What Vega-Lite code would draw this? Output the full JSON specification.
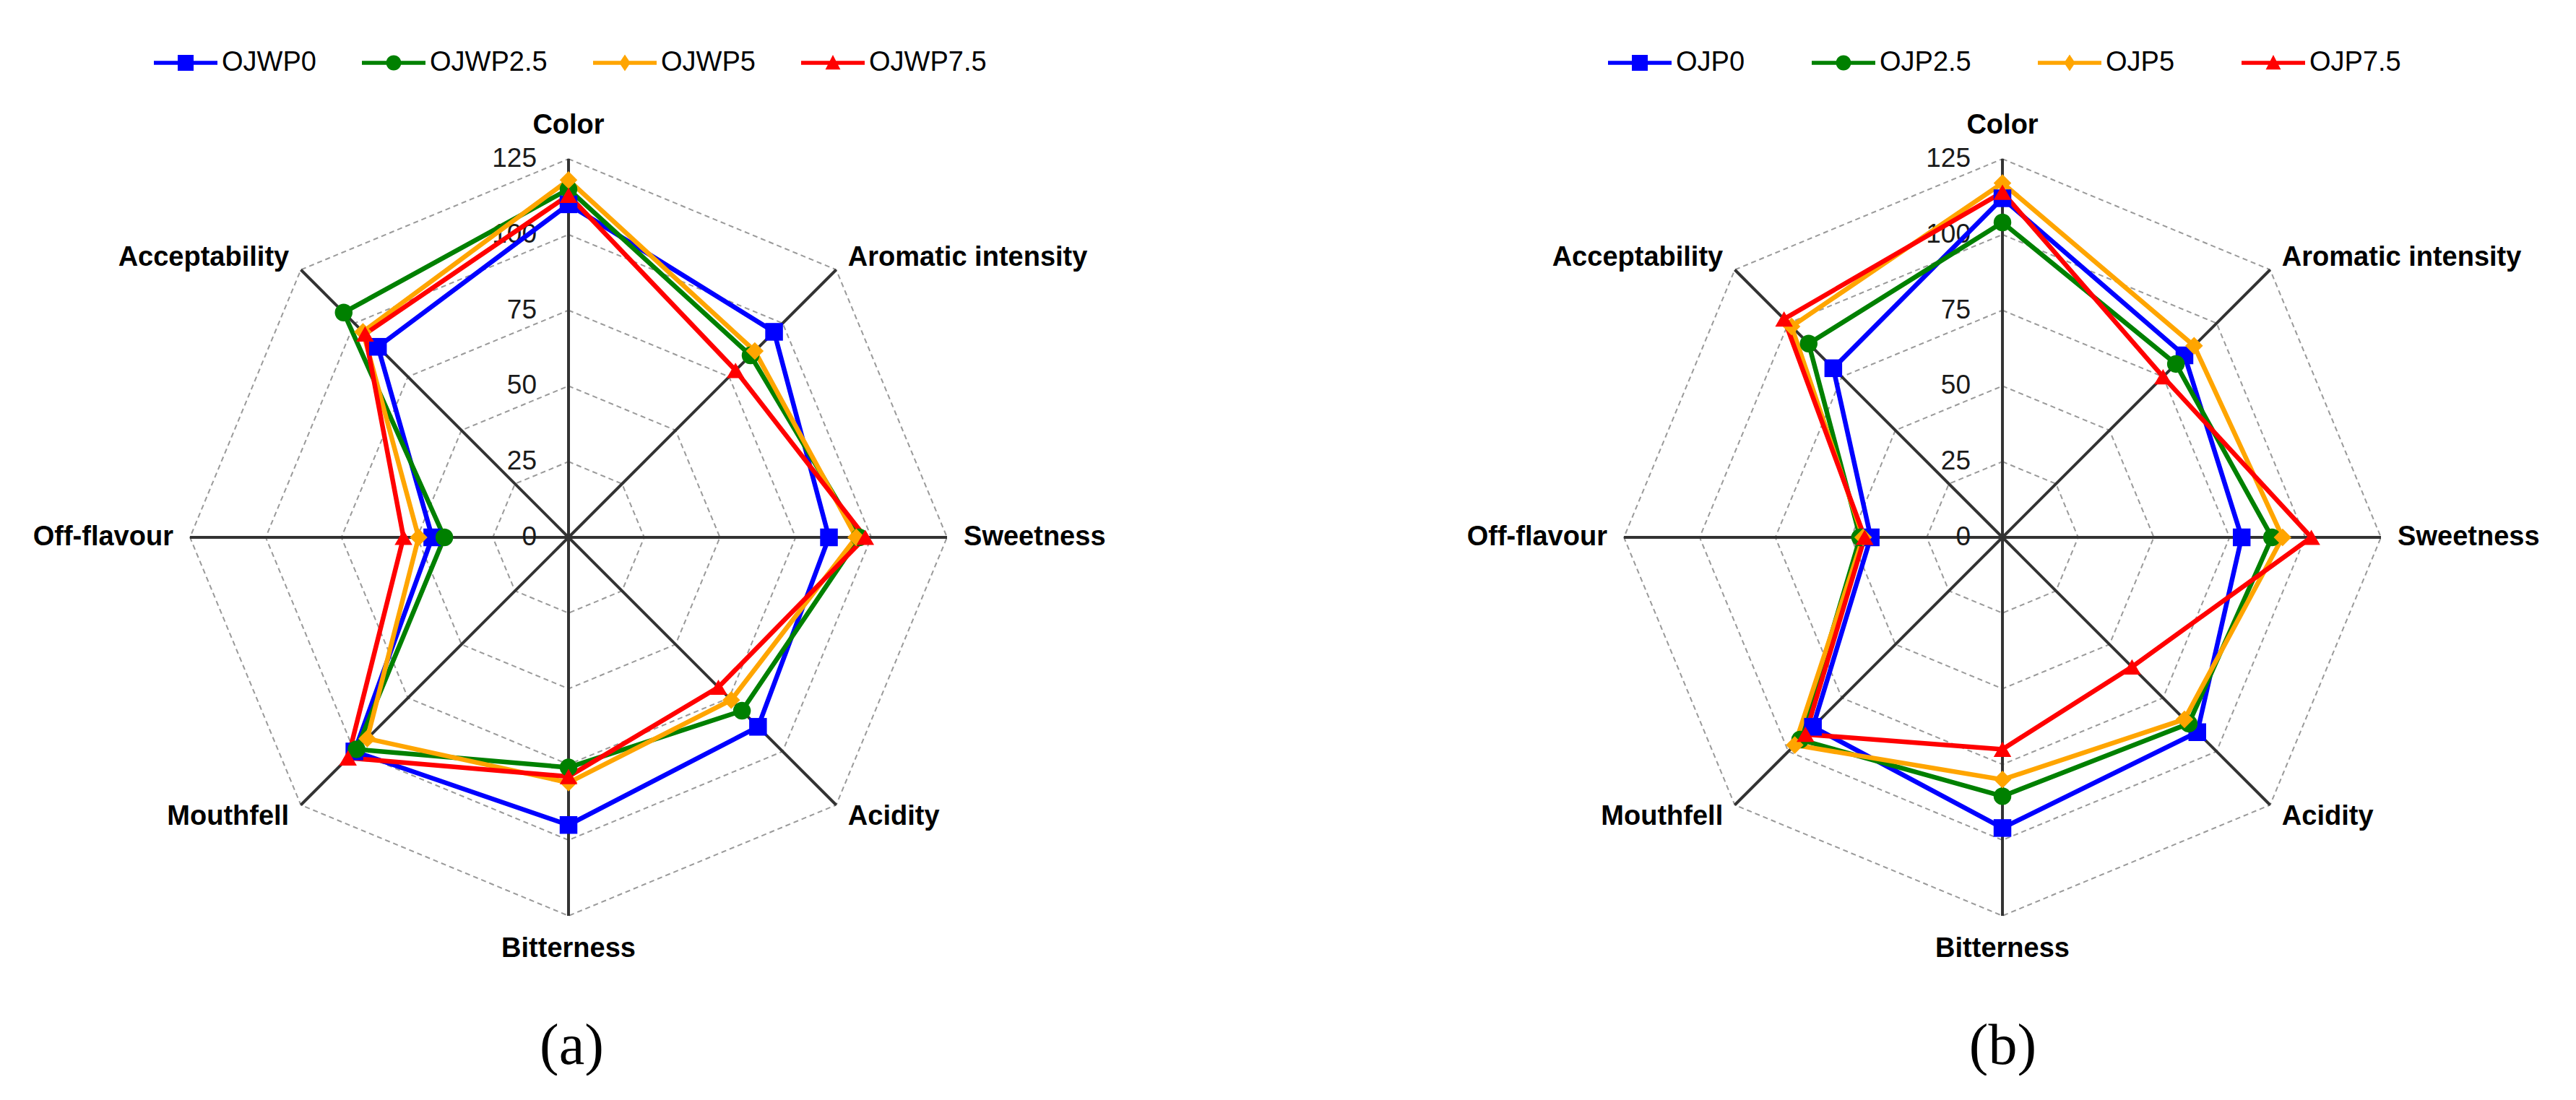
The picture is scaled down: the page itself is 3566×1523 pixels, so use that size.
{
  "$schema": "https://vega.github.io/schema/vega-lite/v6.json",
  "padding": 0,
  "spacing": 0,
  "background": "white",
  "config": {"view": {"stroke": null}, "font": "Liberation Sans"},
  "datasets": {
    "spokes": [
      {"attr": "Color", "idx": 0},
      {"attr": "Aromatic intensity", "idx": 1},
      {"attr": "Sweetness", "idx": 2},
      {"attr": "Acidity", "idx": 3},
      {"attr": "Bitterness", "idx": 4},
      {"attr": "Mouthfell", "idx": 5},
      {"attr": "Off-flavour", "idx": 6},
      {"attr": "Acceptability", "idx": 7}
    ],
    "rings": [
      {"idx": 0, "levels": [25, 50, 75, 100, 125]},
      {"idx": 1, "levels": [25, 50, 75, 100, 125]},
      {"idx": 2, "levels": [25, 50, 75, 100, 125]},
      {"idx": 3, "levels": [25, 50, 75, 100, 125]},
      {"idx": 4, "levels": [25, 50, 75, 100, 125]},
      {"idx": 5, "levels": [25, 50, 75, 100, 125]},
      {"idx": 6, "levels": [25, 50, 75, 100, 125]},
      {"idx": 7, "levels": [25, 50, 75, 100, 125]}
    ],
    "ticks": [{"tick": 0}, {"tick": 25}, {"tick": 50}, {"tick": 75}, {"tick": 100}, {"tick": 125}],
    "scores": [
      {"panel": "a", "series": "OJWP0", "idx": 0, "value": 110},
      {"panel": "a", "series": "OJWP0", "idx": 1, "value": 96},
      {"panel": "a", "series": "OJWP0", "idx": 2, "value": 86},
      {"panel": "a", "series": "OJWP0", "idx": 3, "value": 88.5},
      {"panel": "a", "series": "OJWP0", "idx": 4, "value": 95},
      {"panel": "a", "series": "OJWP0", "idx": 5, "value": 100},
      {"panel": "a", "series": "OJWP0", "idx": 6, "value": 45},
      {"panel": "a", "series": "OJWP0", "idx": 7, "value": 89},
      {"panel": "a", "series": "OJWP2.5", "idx": 0, "value": 115},
      {"panel": "a", "series": "OJWP2.5", "idx": 1, "value": 85},
      {"panel": "a", "series": "OJWP2.5", "idx": 2, "value": 96},
      {"panel": "a", "series": "OJWP2.5", "idx": 3, "value": 81},
      {"panel": "a", "series": "OJWP2.5", "idx": 4, "value": 76},
      {"panel": "a", "series": "OJWP2.5", "idx": 5, "value": 99},
      {"panel": "a", "series": "OJWP2.5", "idx": 6, "value": 41},
      {"panel": "a", "series": "OJWP2.5", "idx": 7, "value": 105},
      {"panel": "a", "series": "OJWP5", "idx": 0, "value": 118},
      {"panel": "a", "series": "OJWP5", "idx": 1, "value": 87},
      {"panel": "a", "series": "OJWP5", "idx": 2, "value": 95},
      {"panel": "a", "series": "OJWP5", "idx": 3, "value": 76},
      {"panel": "a", "series": "OJWP5", "idx": 4, "value": 81},
      {"panel": "a", "series": "OJWP5", "idx": 5, "value": 94},
      {"panel": "a", "series": "OJWP5", "idx": 6, "value": 49.5},
      {"panel": "a", "series": "OJWP5", "idx": 7, "value": 96},
      {"panel": "a", "series": "OJWP7.5", "idx": 0, "value": 113},
      {"panel": "a", "series": "OJWP7.5", "idx": 1, "value": 78},
      {"panel": "a", "series": "OJWP7.5", "idx": 2, "value": 98},
      {"panel": "a", "series": "OJWP7.5", "idx": 3, "value": 70},
      {"panel": "a", "series": "OJWP7.5", "idx": 4, "value": 79},
      {"panel": "a", "series": "OJWP7.5", "idx": 5, "value": 103},
      {"panel": "a", "series": "OJWP7.5", "idx": 6, "value": 54.5},
      {"panel": "a", "series": "OJWP7.5", "idx": 7, "value": 95},
      {"panel": "b", "series": "OJP0", "idx": 0, "value": 112},
      {"panel": "b", "series": "OJP0", "idx": 1, "value": 85},
      {"panel": "b", "series": "OJP0", "idx": 2, "value": 79},
      {"panel": "b", "series": "OJP0", "idx": 3, "value": 91},
      {"panel": "b", "series": "OJP0", "idx": 4, "value": 96},
      {"panel": "b", "series": "OJP0", "idx": 5, "value": 88.5},
      {"panel": "b", "series": "OJP0", "idx": 6, "value": 43.5},
      {"panel": "b", "series": "OJP0", "idx": 7, "value": 79},
      {"panel": "b", "series": "OJP2.5", "idx": 0, "value": 104},
      {"panel": "b", "series": "OJP2.5", "idx": 1, "value": 81},
      {"panel": "b", "series": "OJP2.5", "idx": 2, "value": 89},
      {"panel": "b", "series": "OJP2.5", "idx": 3, "value": 87},
      {"panel": "b", "series": "OJP2.5", "idx": 4, "value": 85.5},
      {"panel": "b", "series": "OJP2.5", "idx": 5, "value": 94.5},
      {"panel": "b", "series": "OJP2.5", "idx": 6, "value": 47},
      {"panel": "b", "series": "OJP2.5", "idx": 7, "value": 90.5},
      {"panel": "b", "series": "OJP5", "idx": 0, "value": 117},
      {"panel": "b", "series": "OJP5", "idx": 1, "value": 89.5},
      {"panel": "b", "series": "OJP5", "idx": 2, "value": 92.5},
      {"panel": "b", "series": "OJP5", "idx": 3, "value": 85},
      {"panel": "b", "series": "OJP5", "idx": 4, "value": 80},
      {"panel": "b", "series": "OJP5", "idx": 5, "value": 97},
      {"panel": "b", "series": "OJP5", "idx": 6, "value": 46},
      {"panel": "b", "series": "OJP5", "idx": 7, "value": 98.5},
      {"panel": "b", "series": "OJP7.5", "idx": 0, "value": 114},
      {"panel": "b", "series": "OJP7.5", "idx": 1, "value": 75},
      {"panel": "b", "series": "OJP7.5", "idx": 2, "value": 102},
      {"panel": "b", "series": "OJP7.5", "idx": 3, "value": 60.5},
      {"panel": "b", "series": "OJP7.5", "idx": 4, "value": 70},
      {"panel": "b", "series": "OJP7.5", "idx": 5, "value": 92},
      {"panel": "b", "series": "OJP7.5", "idx": 6, "value": 45.5},
      {"panel": "b", "series": "OJP7.5", "idx": 7, "value": 102}
    ]
  },
  "resolve": {
    "scale": {"color": "independent", "shape": "independent", "x": "independent", "y": "independent"},
    "legend": {"color": "independent"}
  },
  "hconcat": [
    {
      "width": 1783,
      "height": 1380,
      "title": {"text": "(a)", "orient": "bottom", "font": "Liberation Serif", "fontSize": 80, "fontWeight": "normal", "color": "black", "offset": 30, "anchor": "middle", "dx": -100},
      "encoding": {
        "x": {"field": "x", "type": "quantitative", "scale": {"domain": [-187.74, 237.59], "nice": false, "zero": false}, "axis": null},
        "y": {"field": "y", "type": "quantitative", "scale": {"domain": [-151.72, 177.48], "nice": false, "zero": false}, "axis": null}
      },
      "layer": [
        {
          "data": {"name": "rings"},
          "transform": [
            {"flatten": ["levels"]},
            {"calculate": "datum.levels * sin(datum.idx * PI / 4)", "as": "x"},
            {"calculate": "datum.levels * cos(datum.idx * PI / 4)", "as": "y"}
          ],
          "mark": {"type": "line", "interpolate": "linear-closed", "stroke": "#9a9a9a", "strokeWidth": 2, "strokeDash": [7, 5]},
          "encoding": {"detail": {"field": "levels", "type": "nominal"}, "order": {"field": "idx", "type": "quantitative"}}
        },
        {
          "data": {"name": "spokes"},
          "transform": [
            {"calculate": "125 * sin(datum.idx * PI / 4)", "as": "x"},
            {"calculate": "125 * cos(datum.idx * PI / 4)", "as": "y"}
          ],
          "mark": {"type": "rule", "stroke": "#333333", "strokeWidth": 4},
          "encoding": {"x": {"datum": 0, "type": "quantitative"}, "y": {"datum": 0, "type": "quantitative"}, "x2": {"field": "x"}, "y2": {"field": "y"}}
        },
        {
          "data": {"name": "ticks"},
          "transform": [{"calculate": "0", "as": "x"}, {"calculate": "datum.tick", "as": "y"}],
          "mark": {"type": "text", "align": "right", "baseline": "middle", "dx": -44, "fontSize": 37, "font": "Liberation Sans", "color": "#1a1a1a"},
          "encoding": {"text": {"field": "tick", "type": "quantitative"}}
        },
        {
          "data": {"name": "spokes"},
          "transform": [
            {"filter": "datum.idx == 0 || datum.idx == 4"},
            {"calculate": "136 * sin(datum.idx * PI / 4)", "as": "x"},
            {"calculate": "136 * cos(datum.idx * PI / 4)", "as": "y"}
          ],
          "mark": {"type": "text", "align": "center", "baseline": "middle", "fontSize": 38, "fontWeight": "bold", "font": "Liberation Sans", "color": "black"},
          "encoding": {"text": {"field": "attr"}}
        },
        {
          "data": {"name": "spokes"},
          "transform": [
            {"filter": "datum.idx >= 1 && datum.idx <= 3"},
            {"calculate": "130.5 * sin(datum.idx * PI / 4)", "as": "x"},
            {"calculate": "130.5 * cos(datum.idx * PI / 4)", "as": "y"}
          ],
          "mark": {"type": "text", "align": "left", "baseline": "middle", "fontSize": 38, "fontWeight": "bold", "font": "Liberation Sans", "color": "black"},
          "encoding": {"text": {"field": "attr"}}
        },
        {
          "data": {"name": "spokes"},
          "transform": [
            {"filter": "datum.idx >= 5"},
            {"calculate": "130.5 * sin(datum.idx * PI / 4)", "as": "x"},
            {"calculate": "130.5 * cos(datum.idx * PI / 4)", "as": "y"}
          ],
          "mark": {"type": "text", "align": "right", "baseline": "middle", "fontSize": 38, "fontWeight": "bold", "font": "Liberation Sans", "color": "black"},
          "encoding": {"text": {"field": "attr"}}
        },
        {
          "data": {"name": "scores"},
          "transform": [
            {"filter": "datum.panel == 'a'"},
            {"calculate": "datum.value * sin(datum.idx * PI / 4)", "as": "x"},
            {"calculate": "datum.value * cos(datum.idx * PI / 4)", "as": "y"}
          ],
          "mark": {"type": "line", "interpolate": "linear-closed", "strokeWidth": 6.5},
          "encoding": {
            "color": {"field": "series", "type": "nominal", "scale": {"domain": ["OJWP0", "OJWP2.5", "OJWP5", "OJWP7.5"], "range": ["#0000FF", "#008000", "#FFA500", "#FF0000"]}},
            "order": {"field": "idx", "type": "quantitative"}
          }
        },
        {
          "data": {"name": "scores"},
          "transform": [
            {"filter": "datum.panel == 'a'"},
            {"calculate": "datum.value * sin(datum.idx * PI / 4)", "as": "x"},
            {"calculate": "datum.value * cos(datum.idx * PI / 4)", "as": "y"}
          ],
          "mark": {"type": "point", "filled": true, "size": 600, "opacity": 1, "strokeWidth": 0},
          "encoding": {
            "color": {
              "field": "series", "type": "nominal",
              "scale": {"domain": ["OJWP0", "OJWP2.5", "OJWP5", "OJWP7.5"], "range": ["#0000FF", "#008000", "#FFA500", "#FF0000"]},
              "legend": {
                "orient": "none", "legendX": 238, "legendY": 68, "direction": "horizontal", "columns": 4, "title": null,
                "symbolSize": 484, "labelOffset": 31, "columnPadding": 63, "labelLimit": 600,
                "labelFont": "Liberation Sans", "labelFontSize": 38, "labelColor": "black",
                "symbolStrokeWidth": 0, "symbolOpacity": 1,
                "encode": {"symbols": {"update": {
                  "shape": {"signal": "['M-4,-0.25H4V0.25H-4Z M-1,-1H1V1H-1Z', 'M-4,-0.25H4V0.25H-4Z M-0.95,0A0.95,0.95 0 1,1 0.95,0A0.95,0.95 0 1,1 -0.95,0Z', 'M-4,-0.25H4V0.25H-4Z M0,-1.05L0.7,0L0,1.05L-0.7,0Z', 'M-4,-0.25H4V0.25H-4Z M0,-1L0.95,0.85H-0.95Z'][datum.index]"},
                  "fill": {"signal": "['#0000FF', '#008000', '#FFA500', '#FF0000'][datum.index]"},
                  "strokeWidth": {"value": 0},
                  "opacity": {"value": 1}
                }}}
              }
            },
            "shape": {"field": "series", "type": "nominal", "scale": {"range": ["square", "circle", "diamond", "triangle-up"]}, "legend": null}
          }
        }
      ]
    },
    {
      "width": 1783,
      "height": 1380,
      "title": {"text": "(b)", "orient": "bottom", "font": "Liberation Serif", "fontSize": 80, "fontWeight": "normal", "color": "black", "offset": 30, "anchor": "middle", "dx": 98},
      "encoding": {
        "x": {"field": "x", "type": "quantitative", "scale": {"domain": [-235.93, 189.4], "nice": false, "zero": false}, "axis": null},
        "y": {"field": "y", "type": "quantitative", "scale": {"domain": [-151.72, 177.48], "nice": false, "zero": false}, "axis": null}
      },
      "layer": [
        {
          "data": {"name": "rings"},
          "transform": [
            {"flatten": ["levels"]},
            {"calculate": "datum.levels * sin(datum.idx * PI / 4)", "as": "x"},
            {"calculate": "datum.levels * cos(datum.idx * PI / 4)", "as": "y"}
          ],
          "mark": {"type": "line", "interpolate": "linear-closed", "stroke": "#9a9a9a", "strokeWidth": 2, "strokeDash": [7, 5]},
          "encoding": {"detail": {"field": "levels", "type": "nominal"}, "order": {"field": "idx", "type": "quantitative"}}
        },
        {
          "data": {"name": "spokes"},
          "transform": [
            {"calculate": "125 * sin(datum.idx * PI / 4)", "as": "x"},
            {"calculate": "125 * cos(datum.idx * PI / 4)", "as": "y"}
          ],
          "mark": {"type": "rule", "stroke": "#333333", "strokeWidth": 4},
          "encoding": {"x": {"datum": 0, "type": "quantitative"}, "y": {"datum": 0, "type": "quantitative"}, "x2": {"field": "x"}, "y2": {"field": "y"}}
        },
        {
          "data": {"name": "ticks"},
          "transform": [{"calculate": "0", "as": "x"}, {"calculate": "datum.tick", "as": "y"}],
          "mark": {"type": "text", "align": "right", "baseline": "middle", "dx": -44, "fontSize": 37, "font": "Liberation Sans", "color": "#1a1a1a"},
          "encoding": {"text": {"field": "tick", "type": "quantitative"}}
        },
        {
          "data": {"name": "spokes"},
          "transform": [
            {"filter": "datum.idx == 0 || datum.idx == 4"},
            {"calculate": "136 * sin(datum.idx * PI / 4)", "as": "x"},
            {"calculate": "136 * cos(datum.idx * PI / 4)", "as": "y"}
          ],
          "mark": {"type": "text", "align": "center", "baseline": "middle", "fontSize": 38, "fontWeight": "bold", "font": "Liberation Sans", "color": "black"},
          "encoding": {"text": {"field": "attr"}}
        },
        {
          "data": {"name": "spokes"},
          "transform": [
            {"filter": "datum.idx >= 1 && datum.idx <= 3"},
            {"calculate": "130.5 * sin(datum.idx * PI / 4)", "as": "x"},
            {"calculate": "130.5 * cos(datum.idx * PI / 4)", "as": "y"}
          ],
          "mark": {"type": "text", "align": "left", "baseline": "middle", "fontSize": 38, "fontWeight": "bold", "font": "Liberation Sans", "color": "black"},
          "encoding": {"text": {"field": "attr"}}
        },
        {
          "data": {"name": "spokes"},
          "transform": [
            {"filter": "datum.idx >= 5"},
            {"calculate": "130.5 * sin(datum.idx * PI / 4)", "as": "x"},
            {"calculate": "130.5 * cos(datum.idx * PI / 4)", "as": "y"}
          ],
          "mark": {"type": "text", "align": "right", "baseline": "middle", "fontSize": 38, "fontWeight": "bold", "font": "Liberation Sans", "color": "black"},
          "encoding": {"text": {"field": "attr"}}
        },
        {
          "data": {"name": "scores"},
          "transform": [
            {"filter": "datum.panel == 'b'"},
            {"calculate": "datum.value * sin(datum.idx * PI / 4)", "as": "x"},
            {"calculate": "datum.value * cos(datum.idx * PI / 4)", "as": "y"}
          ],
          "mark": {"type": "line", "interpolate": "linear-closed", "strokeWidth": 6.5},
          "encoding": {
            "color": {"field": "series", "type": "nominal", "scale": {"domain": ["OJP0", "OJP2.5", "OJP5", "OJP7.5"], "range": ["#0000FF", "#008000", "#FFA500", "#FF0000"]}},
            "order": {"field": "idx", "type": "quantitative"}
          }
        },
        {
          "data": {"name": "scores"},
          "transform": [
            {"filter": "datum.panel == 'b'"},
            {"calculate": "datum.value * sin(datum.idx * PI / 4)", "as": "x"},
            {"calculate": "datum.value * cos(datum.idx * PI / 4)", "as": "y"}
          ],
          "mark": {"type": "point", "filled": true, "size": 600, "opacity": 1, "strokeWidth": 0},
          "encoding": {
            "color": {
              "field": "series", "type": "nominal",
              "scale": {"domain": ["OJP0", "OJP2.5", "OJP5", "OJP7.5"], "range": ["#0000FF", "#008000", "#FFA500", "#FF0000"]},
              "legend": {
                "orient": "none", "legendX": 468, "legendY": 68, "direction": "horizontal", "columns": 4, "title": null,
                "symbolSize": 484, "labelOffset": 31, "columnPadding": 92, "labelLimit": 600,
                "labelFont": "Liberation Sans", "labelFontSize": 38, "labelColor": "black",
                "symbolStrokeWidth": 0, "symbolOpacity": 1,
                "encode": {"symbols": {"update": {
                  "shape": {"signal": "['M-4,-0.25H4V0.25H-4Z M-1,-1H1V1H-1Z', 'M-4,-0.25H4V0.25H-4Z M-0.95,0A0.95,0.95 0 1,1 0.95,0A0.95,0.95 0 1,1 -0.95,0Z', 'M-4,-0.25H4V0.25H-4Z M0,-1.05L0.7,0L0,1.05L-0.7,0Z', 'M-4,-0.25H4V0.25H-4Z M0,-1L0.95,0.85H-0.95Z'][datum.index]"},
                  "fill": {"signal": "['#0000FF', '#008000', '#FFA500', '#FF0000'][datum.index]"},
                  "strokeWidth": {"value": 0},
                  "opacity": {"value": 1}
                }}}
              }
            },
            "shape": {"field": "series", "type": "nominal", "scale": {"range": ["square", "circle", "diamond", "triangle-up"]}, "legend": null}
          }
        }
      ]
    }
  ]
}
